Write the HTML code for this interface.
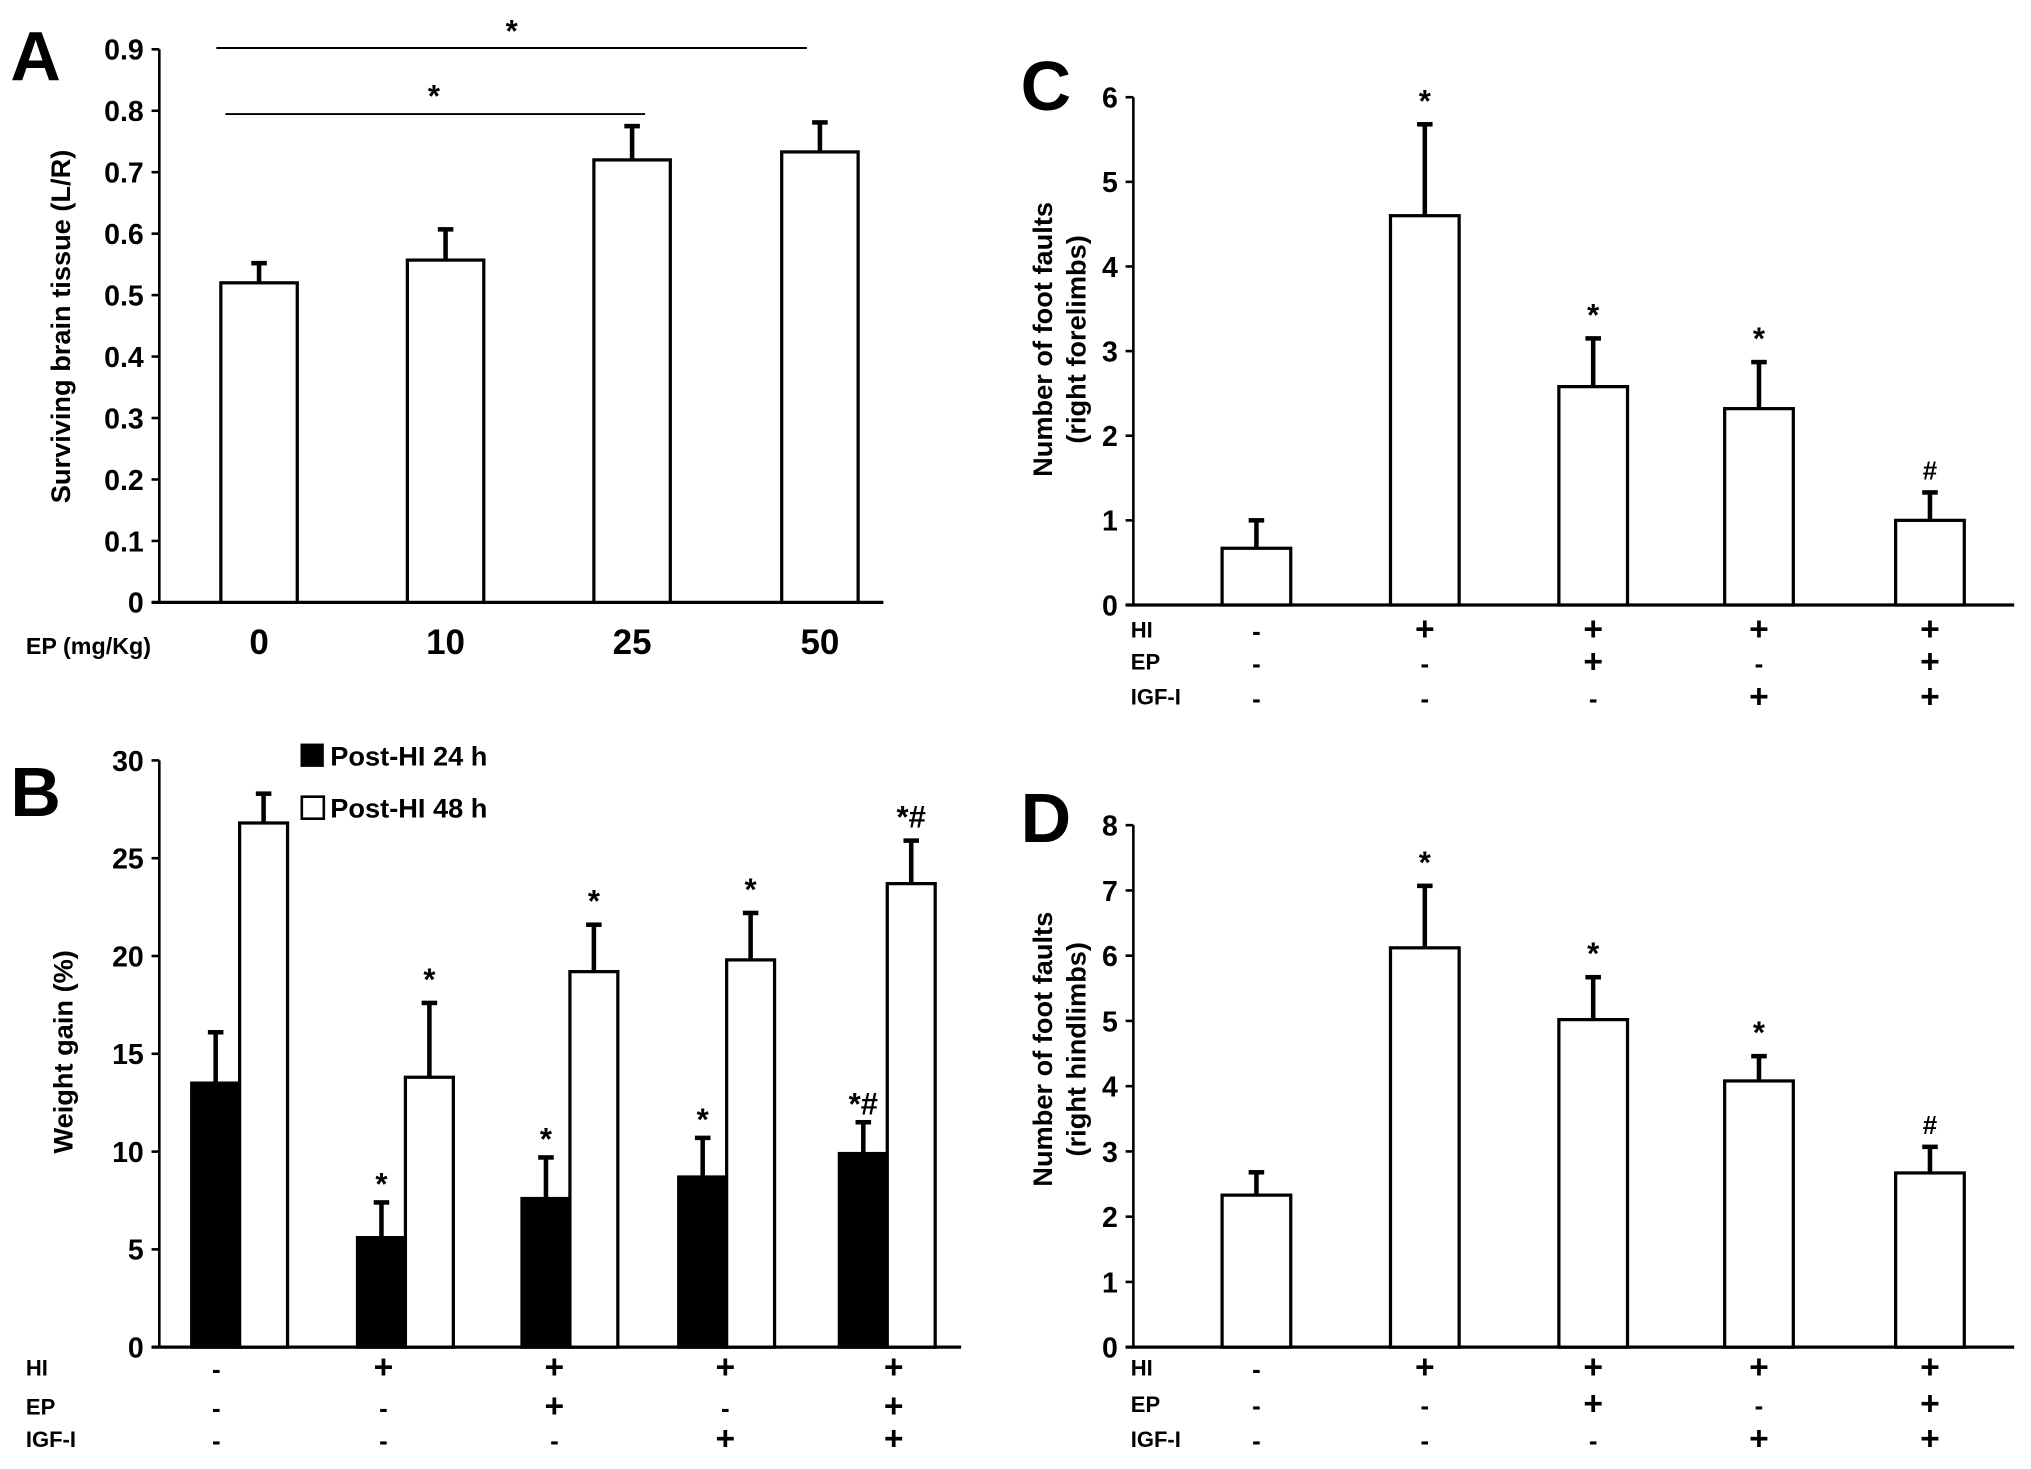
<!DOCTYPE html>
<html><head><meta charset="utf-8"><style>
html,body{margin:0;padding:0;background:#fff}
svg{display:block}
text{font-family:"Liberation Sans",sans-serif;font-weight:bold;fill:#000}
</style></head><body>
<svg id="fig" width="2031" height="1469" viewBox="0 0 1568 1134" xmlns="http://www.w3.org/2000/svg"></svg>
<script>
const aCats=["0","10","25","50"];
const aVals=[0.52,0.557,0.72,0.733];
const aErr=[0.032,0.05,0.055,0.048];
const aTicks=["0","0.1","0.2","0.3","0.4","0.5","0.6","0.7","0.8","0.9"];
const bBlack=[13.5,5.6,7.6,8.7,9.9];
const bBlackErr=[2.6,1.8,2.1,2.0,1.6];
const bWhite=[26.8,13.8,19.2,19.8,23.7];
const bWhiteErr=[1.5,3.8,2.4,2.4,2.2];
const bBlackMark=["","*","*","*","*#"];
const bWhiteMark=["","*","*","*","*#"];
const bTicks=["0","5","10","15","20","25","30"];
const cVals=[0.67,4.6,2.58,2.32,1.0];
const cErr=[0.33,1.08,0.57,0.55,0.33];
const cMarks=["","*","*","*","#"];
const cTicks=["0","1","2","3","4","5","6"];
const dVals=[2.33,6.12,5.02,4.08,2.67];
const dErr=[0.35,0.95,0.65,0.38,0.4];
const dMarks=["","*","*","*","#"];
const dTicks=["0","1","2","3","4","5","6","7","8"];
const HI=["-","+","+","+","+"],EP=["-","-","+","-","+"],IGF=["-","-","-","+","+"];

const svg=document.getElementById('fig');const NS="http://www.w3.org/2000/svg";
function el(t,a,p){const e=document.createElementNS(NS,t);for(const k in a)e.setAttribute(k,a[k]);(p||svg).appendChild(e);return e;}
function tx(x,y,s,size,anchor,name,extra){const e=el('text',Object.assign({x:x,y:y,'font-size':size,'text-anchor':anchor||'middle'},extra||{}));e.textContent=s;


return e;}
function ln(x1,y1,x2,y2,w,name){const e=el('line',{x1,y1,x2,y2,stroke:'#000','stroke-width':w||2});


return e;}
function axes(ax,x0,x1,yTop,y0,ticks,maxV,title,titleLines,tfs){
  ln(ax,yTop,ax,y0,2,'y-axis');ln(ax-6,y0,x1,y0,2.5,'x-axis');
  ticks.forEach((t,i)=>{const y=y0-(y0-yTop)*i/(ticks.length-1);ln(ax-6,y,ax,y,2,'y-tick');tx(ax-12,y+8,t,22,'end','y-tick-label');});
}
function bar(x,w,yv,y0,fill,name){const e=el('rect',{x:x-w/2,y:yv,width:w,height:y0-yv,fill:fill,stroke:'#000','stroke-width':2.5});

}
function err(x,yv,ye){ln(x,yv,x,ye,3.5,'error-bar');ln(x-6,ye,x+6,ye,3.5,'error-cap');}

// Panel A
(function(){const ax=123,y0=465,yT=38,mx=0.9,sy=v=>y0-(y0-yT)*v/mx;const xs=[200,344,488,633];
tx(8,62,"A",54,'start','panel-a-label');
axes(ax,0,682,yT,y0,aTicks);
aVals.forEach((v,i)=>{bar(xs[i],59,sy(v),y0,'#fff','bar-a-'+aCats[i]);err(xs[i],sy(v),sy(v+aErr[i]));tx(xs[i],505,aCats[i],27,'middle','x-tick-label');});
tx(20,505,"EP (mg/Kg)",18,'start','x-axis-title',{'font-weight':'normal'});
ln(167,37,623,37,1.5,'sig-line');tx(395,32,"*",24,'middle','sig-star');
ln(174,88,498,88,1.5,'sig-line');tx(335,82,"*",24,'middle','sig-star');
tx(0,0,"Surviving  brain tissue (L/R)",21,'middle','y-axis-title',{transform:'translate(54,252) rotate(-90)'});
})();
function rows(xs,ys,lx){[[HI,"HI"],[EP,"EP"],[IGF,"IGF-I"]].forEach((r,j)=>{tx(lx,ys[j]+7,r[1],17,'start','row-label',{'font-weight':'normal'});r[0].forEach((s,i)=>tx(xs[i],ys[j]+9,s,s=="+"?26:20,'middle','row-sign'));});}
// Panel C
(function(){const ax=875,y0=467,yT=75,mx=6,sy=v=>y0-(y0-yT)*v/mx;const xs=[970,1100,1230,1358,1490];
tx(788,85,"C",54,'start','panel-c-label');
axes(ax,0,1555,yT,y0,cTicks);
cVals.forEach((v,i)=>{bar(xs[i],53,sy(v),y0,'#fff','bar-c-'+i);const ye=sy(v+cErr[i]);err(xs[i],sy(v),ye);if(cMarks[i])tx(xs[i],ye-10,cMarks[i],cMarks[i]=='#'?20:24,'middle','sig-mark');});
rows(xs,[485,510,537],873);
tx(0,0,"Number of foot faults",21,'middle','y-axis-title',{transform:'translate(812,262) rotate(-90)'});
tx(0,0,"(right forelimbs)",21,'middle','y-axis-title',{transform:'translate(838,262) rotate(-90)'});
})();
// Panel D
(function(){const ax=875,y0=1040,yT=637,mx=8,sy=v=>y0-(y0-yT)*v/mx;const xs=[970,1100,1230,1358,1490];
tx(788,650,"D",54,'start','panel-d-label');
axes(ax,0,1555,yT,y0,dTicks);
dVals.forEach((v,i)=>{bar(xs[i],53,sy(v),y0,'#fff','bar-d-'+i);const ye=sy(v+dErr[i]);err(xs[i],sy(v),ye);if(dMarks[i])tx(xs[i],ye-10,dMarks[i],dMarks[i]=='#'?20:24,'middle','sig-mark');});
rows(xs,[1055,1083,1110],873);
tx(0,0,"Number of foot faults",21,'middle','y-axis-title',{transform:'translate(812,810) rotate(-90)'});
tx(0,0,"(right hindlimbs)",21,'middle','y-axis-title',{transform:'translate(838,810) rotate(-90)'});
})();
// Panel B
(function(){const ax=123,y0=1040,yT=587,mx=30,sy=v=>y0-(y0-yT)*v/mx;const gc=[185,313,440,561,685];const w=37;
tx(8,630,"B",54,'start','panel-b-label');
axes(ax,0,742,yT,y0,bTicks);
bBlack.forEach((v,i)=>{const x=gc[i]-w/2;bar(x,w,sy(v),y0,'#000','bar-24h-'+i);const ye=sy(v+bBlackErr[i]);err(x,sy(v),ye);if(bBlackMark[i])tx(x,ye-6,bBlackMark[i],24,'middle','sig-mark');});
bWhite.forEach((v,i)=>{const x=gc[i]+w/2;bar(x,w,sy(v),y0,'#fff','bar-48h-'+i);const ye=sy(v+bWhiteErr[i]);err(x,sy(v),ye);if(bWhiteMark[i])tx(x,ye-10,bWhiteMark[i],24,'middle','sig-mark');});
rows([167,296,428,560,690],[1055,1085,1110],20);
const l1=el('rect',{x:232,y:574,width:18,height:18,fill:'#000'});
tx(255,591,"Post-HI 24 h",21,'start','legend-entry-24h');
const l2=el('rect',{x:233,y:615,width:17,height:17,fill:'#fff',stroke:'#000','stroke-width':2});
tx(255,631,"Post-HI 48 h",21,'start','legend-entry-48h');
tx(0,0,"Weight gain (%)",21,'middle','y-axis-title',{transform:'translate(56,812) rotate(-90)'});
})();
</script>
</body></html>
